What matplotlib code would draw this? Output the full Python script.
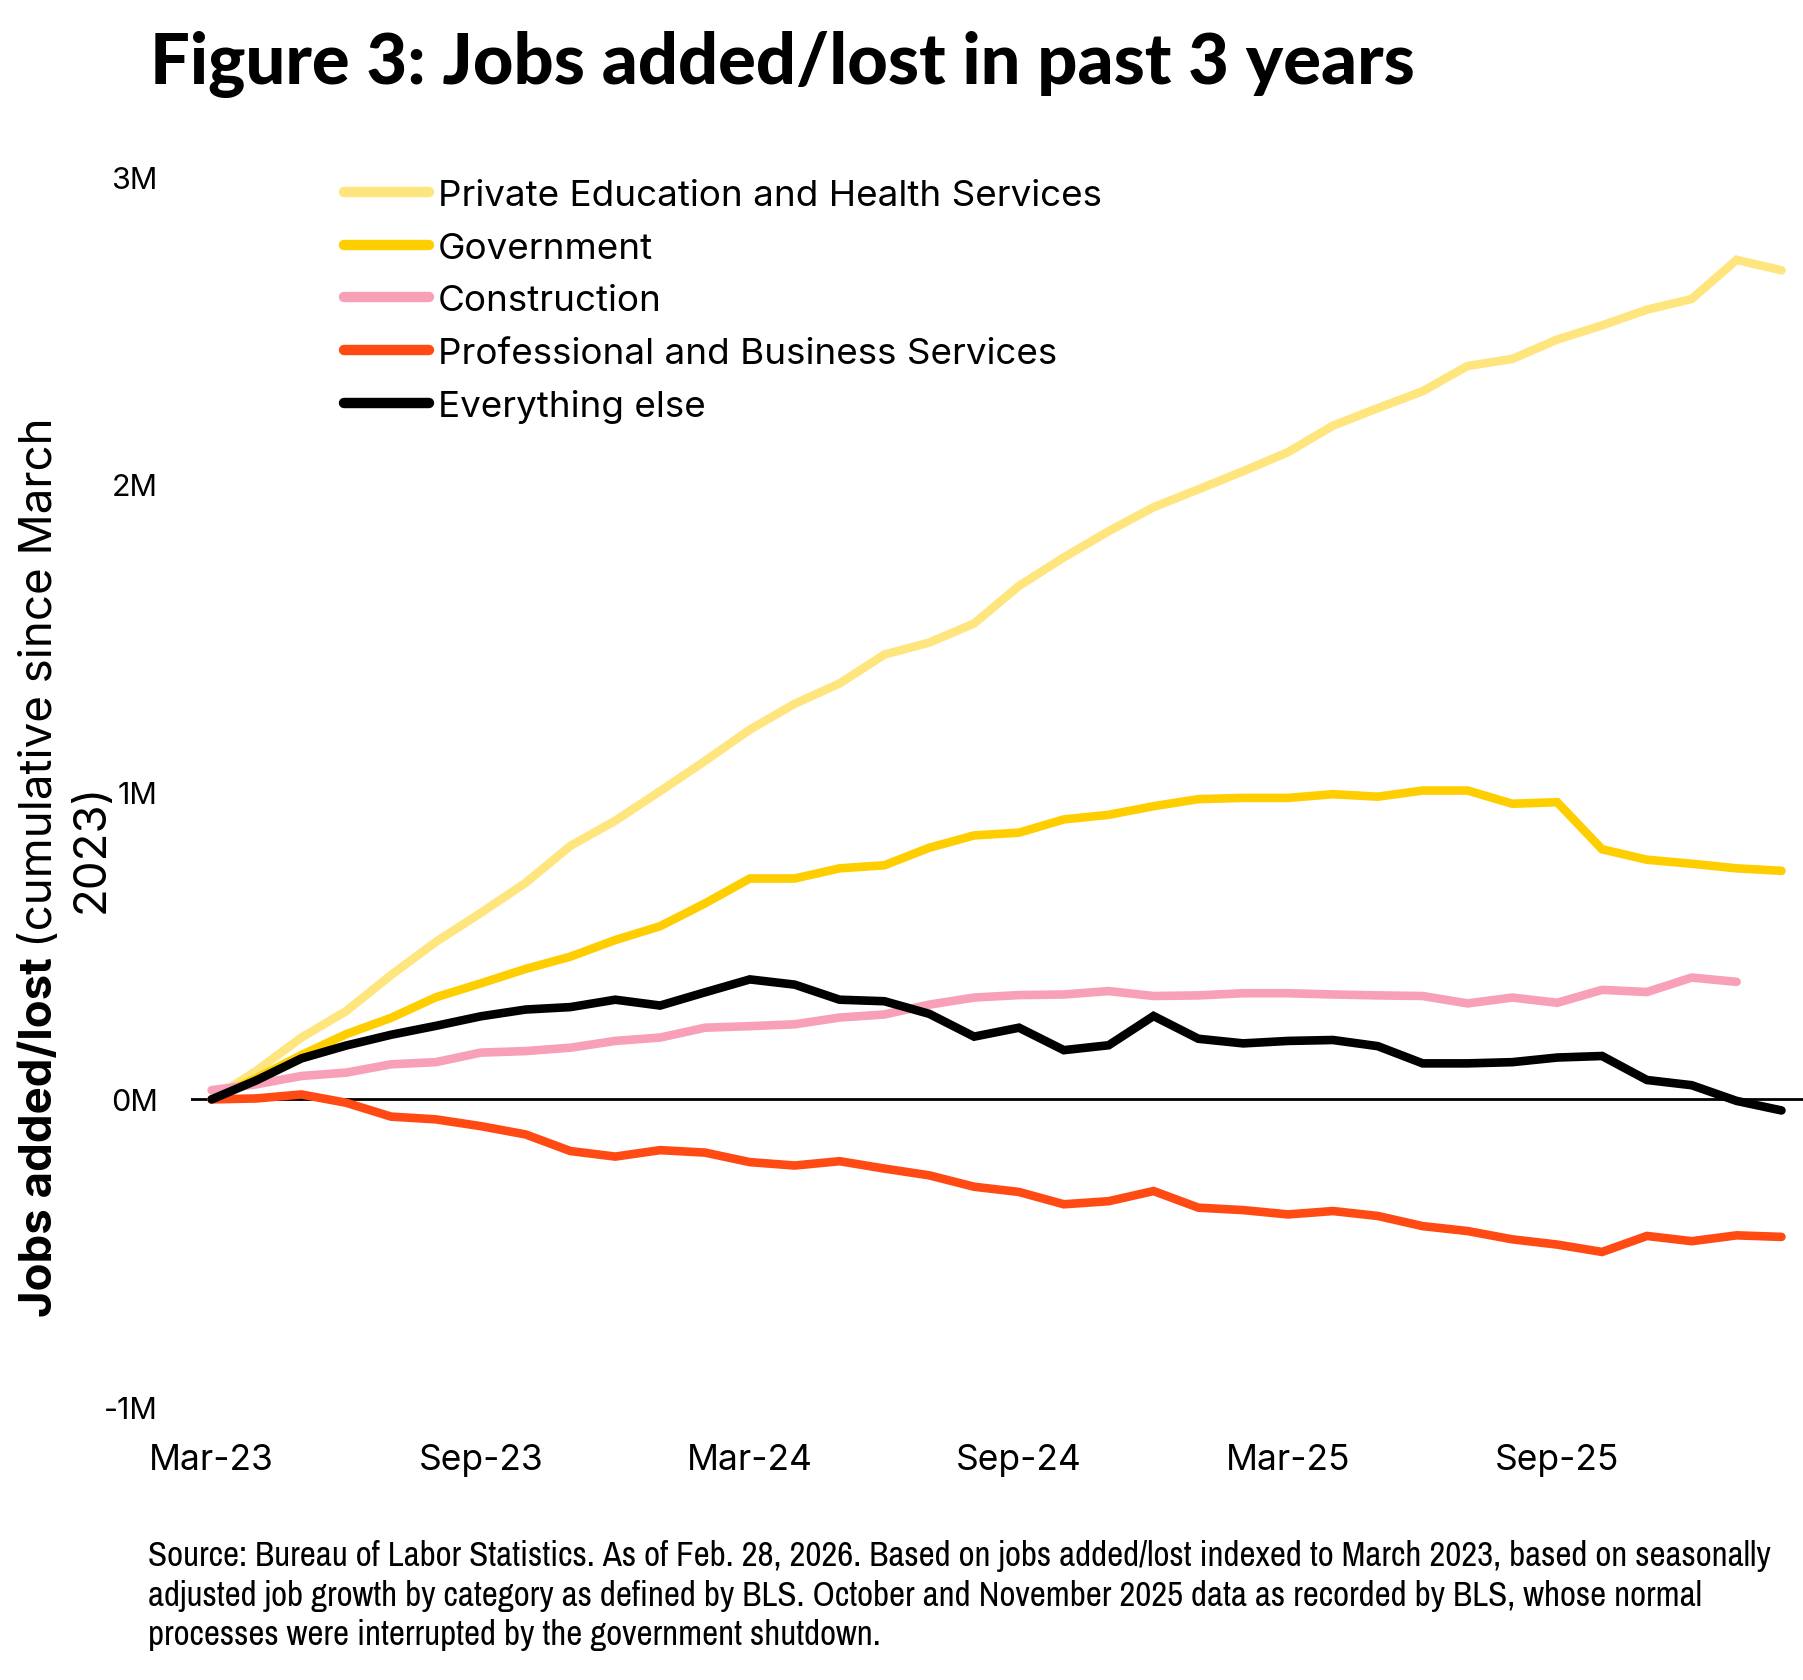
import numpy as np
import matplotlib
matplotlib.use('Agg')
import matplotlib.pyplot as plt
from matplotlib import font_manager

# monthly data, Mar-23 .. Feb-26, cumulative jobs added/lost in millions
months = ['Mar-23', 'Apr-23', 'May-23', 'Jun-23', 'Jul-23', 'Aug-23', 'Sep-23', 'Oct-23', 'Nov-23',
          'Dec-23', 'Jan-24', 'Feb-24', 'Mar-24', 'Apr-24', 'May-24', 'Jun-24', 'Jul-24', 'Aug-24',
          'Sep-24', 'Oct-24', 'Nov-24', 'Dec-24', 'Jan-25', 'Feb-25', 'Mar-25', 'Apr-25', 'May-25',
          'Jun-25', 'Jul-25', 'Aug-25', 'Sep-25', 'Oct-25', 'Nov-25', 'Dec-25', 'Jan-26', 'Feb-26']

edu_health = [0.0, 0.093, 0.201, 0.287, 0.404, 0.512, 0.606, 0.704, 0.824, 0.906, 1.002, 1.100,
              1.202, 1.286, 1.352, 1.446, 1.485, 1.547, 1.669, 1.762, 1.847, 1.925, 1.983, 2.042,
              2.104, 2.190, 2.247, 2.302, 2.384, 2.407, 2.470, 2.516, 2.567, 2.602, 2.729, 2.695]
government = [0.0, 0.069, 0.144, 0.212, 0.265, 0.332, 0.377, 0.424, 0.464, 0.518, 0.563, 0.637,
              0.718, 0.718, 0.751, 0.761, 0.818, 0.858, 0.867, 0.910, 0.925, 0.953, 0.976, 0.980,
              0.980, 0.992, 0.984, 1.004, 1.004, 0.961, 0.966, 0.813, 0.779, 0.766, 0.751, 0.743]
construction = [0.030, 0.049, 0.076, 0.087, 0.114, 0.121, 0.152, 0.157, 0.168, 0.190, 0.201, 0.233,
                0.238, 0.244, 0.266, 0.276, 0.308, 0.331, 0.339, 0.341, 0.352, 0.336, 0.338, 0.345,
                0.345, 0.341, 0.338, 0.336, 0.312, 0.331, 0.314, 0.356, 0.349, 0.396, 0.382]
prof_business = [0.0, 0.003, 0.016, -0.011, -0.056, -0.065, -0.087, -0.114, -0.168, -0.186, -0.165,
                 -0.173, -0.204, -0.215, -0.201, -0.225, -0.247, -0.284, -0.301, -0.341, -0.331,
                 -0.298, -0.352, -0.360, -0.374, -0.363, -0.379, -0.412, -0.428, -0.455, -0.472,
                 -0.496, -0.444, -0.461, -0.442, -0.447]
everything_else = [0.0, 0.062, 0.133, 0.175, 0.210, 0.239, 0.270, 0.292, 0.300, 0.324, 0.305, 0.348,
                   0.390, 0.373, 0.324, 0.319, 0.278, 0.204, 0.233, 0.160, 0.176, 0.271, 0.197, 0.182,
                   0.190, 0.193, 0.173, 0.117, 0.117, 0.121, 0.136, 0.141, 0.063, 0.046, -0.005, -0.036]

series = [
    ('Private Education and Health Services', edu_health, '#FFE57E'),
    ('Government', government, '#FFCE00'),
    ('Construction', construction, '#F8A0B8'),
    ('Professional and Business Services', prof_business, '#FF4A14'),
    ('Everything else', everything_else, '#000000'),
]

tick_months = ['Mar-23', 'Sep-23', 'Mar-24', 'Sep-24', 'Mar-25', 'Sep-25']
y_ticks = [-1, 0, 1, 2, 3]
y_ticklabels = ['-1M', '0M', '1M', '2M', '3M']

# pick a narrow font for the footnote if one is installed
names = sorted({f.name for f in font_manager.fontManager.ttflist})
narrow = [n for n in names if 'Narrow' in n or 'Condensed' in n]
narrow_family = narrow[0] if narrow else 'Liberation Sans'

W, H = 1803, 1681
fig = plt.figure(figsize=(W / 100, H / 100), dpi=100)
ax = fig.add_axes([191 / W, 1 - 1408 / H, 1 - 191 / W, (1408 - 177.5) / H])

x = np.arange(len(months))
ax.axhline(0, color='black', lw=2.0, zorder=1)
for name, vals, color in series:
    ax.plot(x[:len(vals)], vals, color=color, lw=6.2, label=name,
            solid_capstyle='round', solid_joinstyle='miter', zorder=2)

ax.set_xlim(-0.46, 35.48)
ax.set_ylim(-1, 3)
ax.set_xticks([months.index(m) for m in tick_months])
ax.set_xticklabels(tick_months, fontsize=25.5, family='Inter')
ax.set_yticks(y_ticks)
ax.set_yticklabels(y_ticklabels, fontsize=22, family='Inter')
ax.tick_params(length=0)
ax.tick_params(axis='x', pad=26)
ax.tick_params(axis='y', pad=24)
for s in ax.spines.values():
    s.set_visible(False)

leg = ax.legend(loc='upper left', bbox_to_anchor=(344 / W, 1 - 180 / H),
                bbox_transform=fig.transFigure, frameon=False,
                prop={'family': 'Inter', 'size': 26.5}, handlelength=2.3,
                handletextpad=0.25, labelspacing=0.53, borderpad=0, borderaxespad=0)
for line in leg.get_lines():
    line.set_linewidth(7.5)

fig.canvas.draw()
r = fig.canvas.get_renderer()


def fit_width(t, target):
    w = t.get_window_extent(r).width
    t.set_fontsize(t.get_fontsize() * target / w)


title = fig.text(150 / W, 1 - 84 / H, 'Figure 3: Jobs added/lost in past 3 years',
                 fontsize=50, fontweight='black', family='Lato', va='baseline')
fit_width(title, 1263)

# y label: bold first part, then normal text, wrapped on two lines
ylab_fs = 33
t1 = fig.text(52 / W, 1 - 1317 / H, 'Jobs added/lost', rotation=90, rotation_mode='anchor',
              ha='left', va='baseline', fontsize=ylab_fs, fontweight='bold', family='Inter')
t2 = fig.text(52 / W, 0.5, '(cumulative since March', rotation=90, rotation_mode='anchor',
              ha='left', va='baseline', fontsize=ylab_fs, family='Inter')
h1 = t1.get_window_extent(r).height
h2 = t2.get_window_extent(r).height
scale = (900 - 10) / (h1 + h2)
t1.set_fontsize(ylab_fs * scale)
t2.set_fontsize(ylab_fs * scale)
bb = t1.get_window_extent(r)
t2.set_position((52 / W, (bb.y1 + 10) / H))
fig.text(104 / W, 1 - 848 / H, '2023)', rotation=90, rotation_mode='anchor',
         ha='center', va='baseline', fontsize=ylab_fs * scale, family='Inter')

note_lines = ['Source: Bureau of Labor Statistics. As of Feb. 28, 2026. Based on jobs added/lost indexed to March 2023, based on seasonally',
              'adjusted job growth by category as defined by BLS. October and November 2025 data as recorded by BLS, whose normal',
              'processes were interrupted by the government shutdown.']
note_y = [1556, 1596, 1635]
notes = [fig.text(148 / W, 1 - yy / H, s, fontsize=20, family=narrow_family, va='center')
         for s, yy in zip(note_lines, note_y)]
w0 = notes[0].get_window_extent(r).width
for t in notes:
    t.set_fontsize(20 * 1624 / w0)

fig.savefig('out.png', dpi=100, facecolor='white')
